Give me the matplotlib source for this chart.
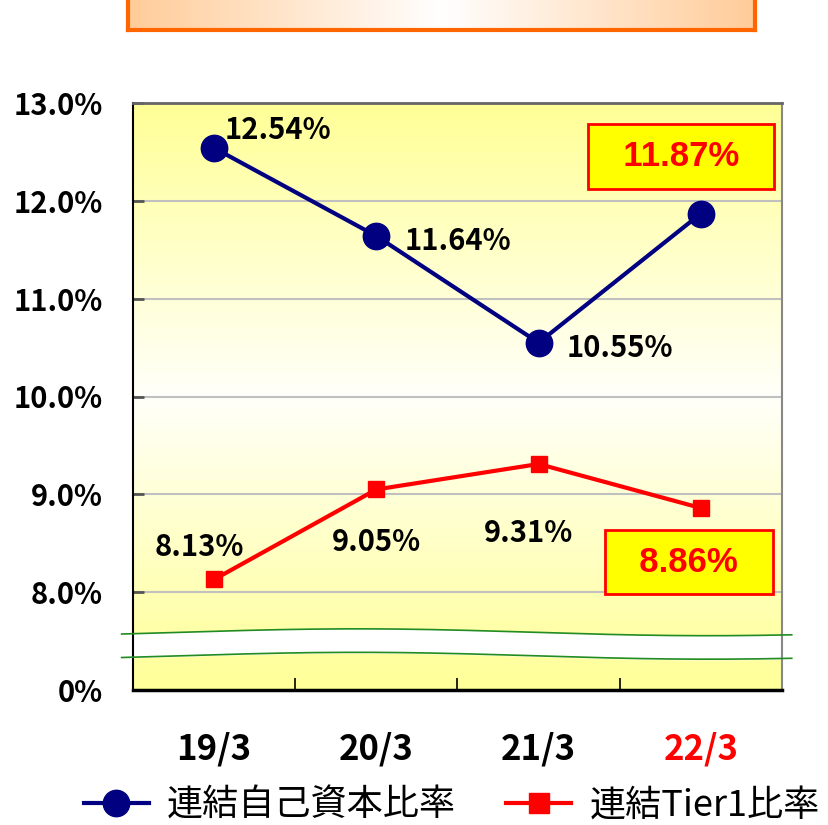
import numpy as np
import matplotlib.pyplot as plt
from matplotlib.lines import Line2D

plt.rcParams['font.family'] = ['Noto Sans CJK JP', 'DejaVu Sans']

periods = ['19/3', '20/3', '21/3', '22/3']
capital_ratio = [12.54, 11.64, 10.55, 11.87]
tier1_ratio = [8.13, 9.05, 9.31, 8.86]
ytick_vals = [7, 8, 9, 10, 11, 12, 13]
ytick_labels = ['0%', '8.0%', '9.0%', '10.0%', '11.0%', '12.0%', '13.0%']
legend_labels = ['連結自己資本比率', '連結Tier1比率']

navy = '#000080'
red = '#FF0000'

W, H = 829, 825
fig = plt.figure(figsize=(W / 100, H / 100), dpi=100)

# orange title box cut at the top
tax = fig.add_axes([128 / W, (H - 30) / H, 627 / W, 50 / H])
grad = np.abs(np.linspace(-1, 1, 300))
row = np.ones((1, 300, 3))
row[0, :, 1] = 1 - 0.2 * grad
row[0, :, 2] = 1 - 0.4 * grad
tax.imshow(row, aspect='auto', extent=[0, 1, 0, 1])
tax.set_xticks([])
tax.set_yticks([])
for s in tax.spines.values():
    s.set_color('#FF6600')
    s.set_linewidth(3)

ax = fig.add_axes([133 / W, (H - 690) / H, 649 / W, 587 / H])
ax.set_xlim(-0.5, 3.5)
ax.set_ylim(7, 13)

# background gradient (yellow - white - yellow)
yy = np.linspace(7, 13, 400)
blue_ch = np.interp(yy, [7, 7.5, 10, 13], [153, 165, 250, 150]) / 255
bg = np.ones((400, 1, 3))
bg[:, 0, 2] = blue_ch
ax.imshow(bg, aspect='auto', extent=[-0.5, 3.5, 7, 13], origin='lower', zorder=0)

for yv in ytick_vals[1:-1]:
    ax.axhline(yv, color='#C0C0C0', lw=1.5, zorder=1)

# axis break
xb = np.linspace(-0.57, 3.56, 200)
wave = 0.035 * np.sin((xb + 0.2) * 1.45)
top_b = 7.59 + wave
bot_b = 7.35 + wave
ax.fill_between(xb, bot_b, top_b, color='white', zorder=2, clip_on=False)
ax.plot(xb, top_b, color='#228B22', lw=1.2, zorder=3, clip_on=False)
ax.plot(xb, bot_b, color='#228B22', lw=1.2, zorder=3, clip_on=False)

x = np.arange(len(periods))
ax.plot(x, capital_ratio, color=navy, lw=3, marker='o', ms=19, zorder=5)
ax.plot(x, tier1_ratio, color=red, lw=3, marker='s', ms=12, zorder=5)

lab_font = dict(fontsize=21, fontweight='bold', color='black')
offsets_cap = [(11, 18, 'left'), (28, -5, 'left'), (28, -5, 'left')]
for i, (dx, dy, ha) in enumerate(offsets_cap):
    ax.annotate(f'{capital_ratio[i]:.2f}%', (x[i], capital_ratio[i]),
                xytext=(dx, dy), textcoords='offset pixels', ha=ha, va='center',
                zorder=6, **lab_font)
offsets_t1 = [(-15, 32), (0, -53), (-10, -69)]
for i, (dx, dy) in enumerate(offsets_t1):
    ax.annotate(f'{tier1_ratio[i]:.2f}%', (x[i], tier1_ratio[i]),
                xytext=(dx, dy), textcoords='offset pixels', ha='center', va='center',
                zorder=6, **lab_font)

box = dict(boxstyle='square,pad=0.45', fc='#FFFF00', ec=red, lw=2)
ax.annotate(f'  {capital_ratio[3]:.2f}%  ', (x[3], capital_ratio[3]), xytext=(-20, 57),
            textcoords='offset pixels', ha='center', va='center', fontsize=25,
            family='Liberation Sans', fontweight='bold', color=red, bbox=box, zorder=6)
ax.annotate(f'  {tier1_ratio[3]:.2f}%  ', (x[3], tier1_ratio[3]), xytext=(-12, -54),
            textcoords='offset pixels', ha='center', va='center', fontsize=25,
            family='Liberation Sans', fontweight='bold', color=red, bbox=box, zorder=6)

ax.set_yticks(ytick_vals)
ax.set_yticklabels(ytick_labels, fontsize=21, fontweight='bold')
ax.tick_params(axis='y', direction='in', length=8, width=2, color='#555555', pad=22)

ax.set_xticks(x)
ax.set_xticklabels(periods, fontsize=25, fontweight='bold')
ax.get_xticklabels()[3].set_color(red)
ax.set_xticks([0.5, 1.5, 2.5], minor=True)
ax.tick_params(axis='x', which='major', length=0, pad=30)
ax.tick_params(axis='x', which='minor', direction='in', length=9, width=1.2, color='black')

ax.spines['left'].set_linewidth(1.5)
ax.spines['bottom'].set_linewidth(2.5)
ax.spines['top'].set_color('#666666')
ax.spines['top'].set_linewidth(2)
ax.spines['right'].set_color('#888888')
ax.spines['right'].set_linewidth(1.5)

handles = [Line2D([], [], color=navy, lw=3, marker='o', ms=19),
           Line2D([], [], color=red, lw=3, marker='s', ms=14)]
fig.legend(handles, legend_labels, loc='center', bbox_to_anchor=(0.545, 19 / H),
           ncol=2, frameon=False, fontsize=26, handlelength=1.8,
           handletextpad=0.5, columnspacing=1.4)

fig.savefig('out.png', dpi=100)
